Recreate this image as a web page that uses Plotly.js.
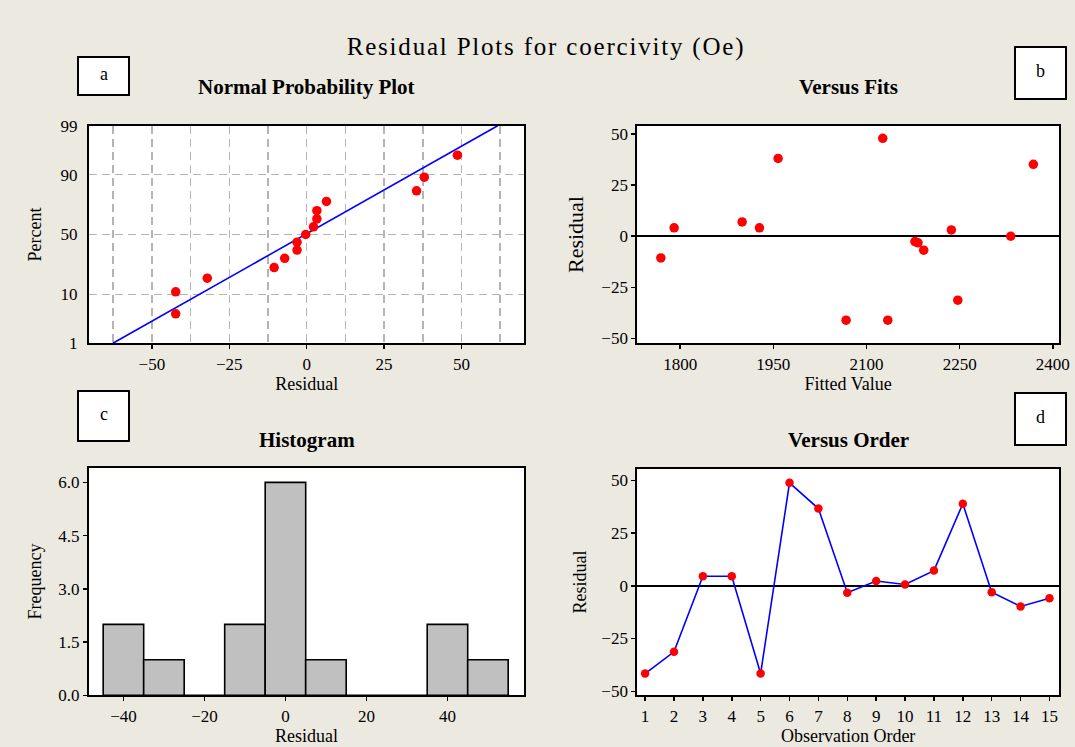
<!DOCTYPE html>
<html>
<head>
<meta charset="utf-8">
<script src="https://cdn.plot.ly/plotly-3.0.1.min.js"></script>
<style>
  html, body { margin: 0; padding: 0; background: #ECE9E0; }
  #chart { width: 1075px; height: 747px; }
  .gtitle { letter-spacing: 1.8px; }
</style>
</head>
<body>
<div id="chart"></div>
<script>
// ---------------- Data ----------------
// a) Normal probability plot
const probResidual = [-42.3, -42.3, -32.1, -10.5, -7.1, -3.1, -3.1, -0.3, 2.2, 3.3, 3.3, 6.4, 35.5, 38.0, 48.7];
const probPercent  = [4.5, 11.0, 17.5, 24.0, 30.5, 37.0, 43.5, 50.0, 56.5, 63.0, 69.5, 76.0, 82.5, 89.0, 95.5];
const probLineResidual = [-62.6, 61.7];
const probLinePercent  = [1, 99];
const probPercentTicks = [1, 10, 50, 90, 99];

// b) Versus fits
const fitsFitted   = [1768.9, 1790.3, 1899.8, 1927.7, 1957.7, 2067.2, 2126.2, 2134.3, 2178.0, 2183.0, 2192.2, 2236.7, 2247.0, 2332.3, 2368.7];
const fitsResidual = [-10.6, 4.1, 7.0, 4.1, 38.1, -41.1, 47.9, -41.1, -2.6, -3.2, -6.8, 3.1, -31.3, 0.0, 35.2];

// c) Histogram
const histBinCenters = [-40, -30, -20, -10, 0, 10, 20, 30, 40, 50];
const histCounts     = [2, 1, 0, 2, 6, 1, 0, 0, 2, 1];

// d) Versus order
const orderIndex    = [1, 2, 3, 4, 5, 6, 7, 8, 9, 10, 11, 12, 13, 14, 15];
const orderResidual = [-41.6, -31.3, 4.5, 4.5, -41.6, 48.8, 36.6, -3.3, 2.3, 0.6, 7.2, 38.9, -3.0, -9.8, -5.9];

// Texts
const mainTitle = 'Residual Plots for coercivity (Oe)';
const panelTitles = ['Normal Probability Plot', 'Versus Fits', 'Histogram', 'Versus Order'];
const panelLetters = ['a', 'b', 'c', 'd'];

// ---------------- Probability scale (inverse normal CDF) ----------------
function normInv(p) {
  const a = [-3.969683028665376e+01, 2.209460984245205e+02, -2.759285104469687e+02, 1.383577518672690e+02, -3.066479806614716e+01, 2.506628277459239e+00];
  const b = [-5.447609879822406e+01, 1.615858368580409e+02, -1.556989798598866e+02, 6.680131188771972e+01, -1.328068155288572e+01];
  const c = [-7.784894002430293e-03, -3.223964580411365e-01, -2.400758277161838e+00, -2.549732539343734e+00, 4.374664141464968e+00, 2.938163982698783e+00];
  const d = [7.784695709041462e-03, 3.224671290700398e-01, 2.445134137142996e+00, 3.754408661907416e+00];
  const plow = 0.02425, phigh = 1 - plow;
  let q, r;
  if (p < plow) {
    q = Math.sqrt(-2 * Math.log(p));
    return (((((c[0]*q+c[1])*q+c[2])*q+c[3])*q+c[4])*q+c[5]) / ((((d[0]*q+d[1])*q+d[2])*q+d[3])*q+1);
  }
  if (p > phigh) {
    q = Math.sqrt(-2 * Math.log(1 - p));
    return -(((((c[0]*q+c[1])*q+c[2])*q+c[3])*q+c[4])*q+c[5]) / ((((d[0]*q+d[1])*q+d[2])*q+d[3])*q+1);
  }
  q = p - 0.5; r = q * q;
  return (((((a[0]*r+a[1])*r+a[2])*r+a[3])*r+a[4])*r+a[5])*q / (((((b[0]*r+b[1])*r+b[2])*r+b[3])*r+b[4])*r+1);
}
const pz = v => normInv(v / 100);

// ---------------- Layout helpers ----------------
const W = 1075, H = 747;
const fx = x => x / W;
const fy = y => 1 - y / H;
const FONT = 'Liberation Serif, Times New Roman, serif';
const RED = '#ff0000', BLUE = '#0000ff';
const GRID = '#b4b4b4';

function axis(extra) {
  return Object.assign({
    showline: true, linecolor: '#000', linewidth: 2, mirror: true,
    ticks: 'outside', ticklen: 4, tickwidth: 1.5, tickcolor: '#000',
    zeroline: false, showgrid: false, fixedrange: true,
    tickfont: { family: FONT, size: 17, color: '#000' }
  }, extra);
}
function atitle(text, standoff, size) {
  return { text: text, standoff: standoff, font: { family: FONT, size: size || 18, color: '#000' } };
}

// ---------------- Traces ----------------
const traces = [
  { // a: fitted line
    type: 'scatter', mode: 'lines', xaxis: 'x', yaxis: 'y',
    x: probLineResidual, y: probLinePercent.map(pz),
    line: { color: BLUE, width: 1.6 }, hoverinfo: 'skip'
  },
  { // a: points
    type: 'scatter', mode: 'markers', xaxis: 'x', yaxis: 'y',
    x: probResidual, y: probPercent.map(pz),
    marker: { color: RED, size: 9.5 }
  },
  { // b
    type: 'scatter', mode: 'markers', xaxis: 'x2', yaxis: 'y2',
    x: fitsFitted, y: fitsResidual,
    marker: { color: RED, size: 9.5 }
  },
  { // c
    type: 'bar', xaxis: 'x3', yaxis: 'y3',
    x: histBinCenters, y: histCounts, width: 10,
    marker: { color: '#c0c0c0', line: { color: '#000', width: 1.6 } }
  },
  { // d
    type: 'scatter', mode: 'lines+markers', xaxis: 'x4', yaxis: 'y4',
    x: orderIndex, y: orderResidual,
    line: { color: BLUE, width: 1.6 },
    marker: { color: RED, size: 8.5 }
  }
];

// ---------------- Annotations & shapes ----------------
const letterBoxes = [
  [78, 129, 57, 95],
  [1015, 1066, 47, 99],
  [78, 129, 391, 441],
  [1015, 1066, 393, 445]
];
const titlePos = [[306.5, 87], [848, 87], [306.5, 440], [848, 440]];

const shapes = letterBoxes.map(b => ({
  type: 'rect', xref: 'paper', yref: 'paper',
  x0: fx(b[0]), x1: fx(b[1]), y0: fy(b[3]), y1: fy(b[2]),
  line: { color: '#000', width: 2 }, fillcolor: '#ffffff', layer: 'above'
}));

const annotations = [];
panelLetters.forEach((L, i) => {
  const b = letterBoxes[i];
  annotations.push({
    xref: 'paper', yref: 'paper', x: fx((b[0] + b[1]) / 2), y: fy((b[2] + b[3]) / 2 - 2),
    xanchor: 'center', yanchor: 'middle', showarrow: false, text: L,
    font: { family: FONT, size: 18, color: '#000' }
  });
});
panelTitles.forEach((t, i) => {
  annotations.push({
    xref: 'paper', yref: 'paper', x: fx(titlePos[i][0]), y: fy(titlePos[i][1]),
    xanchor: 'center', yanchor: 'middle', showarrow: false, text: '<b>' + t + '</b>',
    font: { family: FONT, size: 21, color: '#000' }
  });
});

// ---------------- Layout ----------------
const layout = {
  width: W, height: H,
  margin: { l: 0, r: 0, t: 0, b: 0, pad: 0 },
  paper_bgcolor: '#ECE9E0', plot_bgcolor: '#ffffff',
  showlegend: false,
  font: { family: FONT, color: '#000' },
  title: {
    text: mainTitle, xref: 'paper', yref: 'paper',
    x: fx(546), y: fy(46), xanchor: 'center', yanchor: 'middle',
    font: { family: FONT, size: 25, color: '#000' }
  },
  // a
  xaxis: axis({
    domain: [fx(89), fx(524.3)], range: [-70.3, 70.3], anchor: 'y',
    tick0: 0, dtick: 25,
    showgrid: true, gridcolor: GRID, gridwidth: 1.5, griddash: '8px,5px',
    minor: { tick0: 0, dtick: 12.5, showgrid: true, gridcolor: GRID, gridwidth: 1.5, griddash: '8px,5px', ticks: '' },
    title: atitle('Residual', 4)
  }),
  yaxis: axis({
    domain: [fy(343.3), fy(125.7)], range: [pz(1), pz(99)], anchor: 'x',
    tickmode: 'array', tickvals: probPercentTicks.map(pz), ticktext: probPercentTicks.map(String),
    ticks: '', ticklabelstandoff: 6,
    showgrid: true, gridcolor: GRID, gridwidth: 1.5, griddash: '8px,5px',
    title: atitle('Percent', 14)
  }),
  // b
  xaxis2: axis({
    domain: [fx(637.3), fx(1059)], range: [1731, 2410], anchor: 'y2',
    tick0: 1800, dtick: 150,
    title: atitle('Fitted Value', 4)
  }),
  yaxis2: axis({
    domain: [fy(343.3), fy(125.7)], range: [-52.4, 54.1], anchor: 'x2',
    tick0: 0, dtick: 25,
    zeroline: true, zerolinecolor: '#000', zerolinewidth: 1.6,
    title: atitle('Residual', 12, 22)
  }),
  // c
  xaxis3: axis({
    domain: [fx(89), fx(524)], range: [-48.5, 58.9], anchor: 'y3',
    tick0: 0, dtick: 20,
    title: atitle('Residual', 4)
  }),
  yaxis3: axis({
    domain: [fy(695.3), fy(467.5)], range: [0, 6.42], anchor: 'x3',
    tick0: 0, dtick: 1.5, tickformat: '.1f',
    title: atitle('Frequency', 12)
  }),
  // d
  xaxis4: axis({
    domain: [fx(637.3), fx(1059)], range: [0.73, 15.33], anchor: 'y4',
    tick0: 1, dtick: 1,
    title: atitle('Observation Order', 4)
  }),
  yaxis4: axis({
    domain: [fy(695.3), fy(468.7)], range: [-51.9, 55.5], anchor: 'x4',
    tick0: 0, dtick: 25,
    zeroline: true, zerolinecolor: '#000', zerolinewidth: 1.6,
    title: atitle('Residual', 10)
  }),
  shapes: shapes,
  annotations: annotations
};

Plotly.newPlot('chart', traces, layout, { displayModeBar: false, staticPlot: true });
</script>
</body>
</html>
